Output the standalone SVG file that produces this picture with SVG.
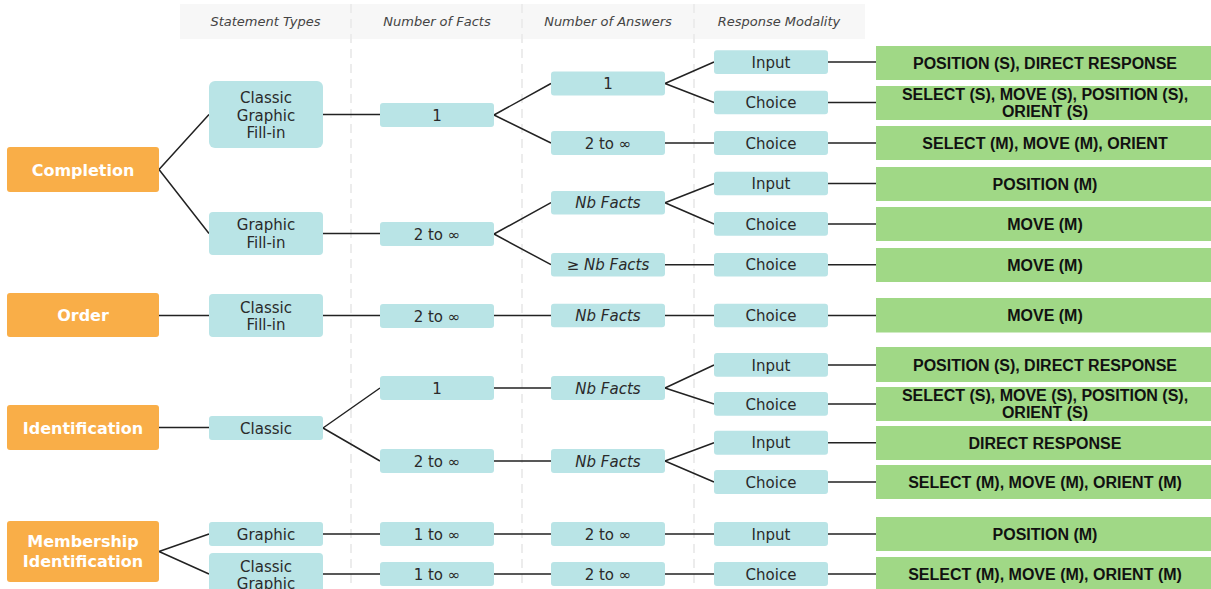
<svg xmlns="http://www.w3.org/2000/svg" width="1211" height="589" viewBox="0 0 1211 589">
<style>
.hdr{fill:#f7f7f7}
.sep{stroke:#ececec;stroke-width:2;stroke-dasharray:9 6;fill:none}
.ht{font-family:"DejaVu Sans",sans-serif;font-style:italic;font-size:13px;fill:#444;text-anchor:middle}
.cat rect{fill:#f9ae48}
.cat text{font-family:"DejaVu Sans",sans-serif;font-weight:bold;font-size:16px;fill:#fff;text-anchor:middle}
.nd rect{fill:#b9e4e6}
.nd text{font-family:"DejaVu Sans",sans-serif;font-size:15px;fill:#2a2a2a;text-anchor:middle}
.nd text.it{font-style:italic}
.res rect{fill:#a0d886}
.res text{font-family:"Liberation Sans",Arial,sans-serif;font-weight:bold;font-size:16px;fill:#111;text-anchor:middle}
.edges{stroke:#222;stroke-width:1.5;fill:none}
</style>

<g id="header">
<rect class="hdr" x="180" y="4" width="685" height="35"/>
<line class="sep" x1="351" y1="4" x2="351" y2="589"/>
<line class="sep" x1="522" y1="4" x2="522" y2="589"/>
<line class="sep" x1="694" y1="4" x2="694" y2="589"/>
<text class="ht" x="265.5" y="26">Statement Types</text>
<text class="ht" x="437" y="26">Number of Facts</text>
<text class="ht" x="608" y="26">Number of Answers</text>
<text class="ht" x="779" y="26">Response Modality</text>
</g>

<g id="connectors" class="edges">
<path d="M159 169.5L209 114.5M159 169.5L209 233.5"/>
<path d="M323 114.5H380M323 233.5H380"/>
<path d="M494 115L551 83.5M494 115L551 143"/>
<path d="M494 234L551 202.7M494 234L551 264.7"/>
<path d="M665 83.5L714 62M665 83.5L714 102.5M665 143H714"/>
<path d="M665 202.7L714 183.5M665 202.7L714 224M665 264.7H714"/>
<path d="M159 315.5H209M323 315.5H380M494 315.5H551M665 315.5H714"/>
<path d="M159 427.5H209M323 428L380 388M323 428L380 461"/>
<path d="M494 388H551M665 388L714 365M665 388L714 404"/>
<path d="M494 461H551M665 461L714 442.7M665 461L714 482"/>
<path d="M159 551.5L209 534M159 551.5L209 574"/>
<path d="M323 534H380M494 534H551M665 534H714"/>
<path d="M323 574H380M494 574H551M665 574H714"/>
<path d="M828 62H876M828 102.5H876M828 143H876M828 183.5H876M828 224H876M828 264.7H876M828 315.5H876M828 365H876M828 404H876M828 442.7H876M828 482H876M828 534H876M828 574H876"/>
</g>

<g id="completion" class="cat"><rect x="7" y="147" width="152" height="45" rx="3"/><text x="83" y="175.5">Completion</text></g>
<g id="order" class="cat"><rect x="7" y="293" width="152" height="44" rx="3"/><text x="83" y="321">Order</text></g>
<g id="identification" class="cat"><rect x="7" y="405" width="152" height="45" rx="3"/><text x="83" y="433.5">Identification</text></g>
<g id="membership" class="cat"><rect x="7" y="521" width="152" height="61" rx="3"/><text x="83" y="547">Membership</text><text x="83" y="567">Identification</text></g>

<g id="st-cgf" class="nd"><rect x="209" y="81" width="114" height="67" rx="6"/><text x="266" y="102.5">Classic</text><text x="266" y="120.5">Graphic</text><text x="266" y="138">Fill-in</text></g>
<g id="st-gf" class="nd"><rect x="209" y="212" width="114" height="43" rx="4"/><text x="266" y="230">Graphic</text><text x="266" y="247.5">Fill-in</text></g>
<g id="st-cf" class="nd"><rect x="209" y="294" width="114" height="43" rx="4"/><text x="266" y="312.5">Classic</text><text x="266" y="330">Fill-in</text></g>
<g id="st-c" class="nd"><rect x="209" y="416" width="114" height="24" rx="3"/><text x="266" y="433.5">Classic</text></g>
<g id="st-g" class="nd"><rect x="209" y="522" width="114" height="24" rx="3"/><text x="266" y="539.5">Graphic</text></g>
<g id="st-cg" class="nd"><rect x="209" y="553" width="114" height="43" rx="4"/><text x="266" y="571.5">Classic</text><text x="266" y="589">Graphic</text></g>

<g id="nf-1a" class="nd"><rect x="380" y="103" width="114" height="24" rx="3"/><text x="437" y="120.5">1</text></g>
<g id="nf-2a" class="nd"><rect x="380" y="222" width="114" height="24" rx="3"/><text x="437" y="239.5">2 to ∞</text></g>
<g id="nf-2b" class="nd"><rect x="380" y="304" width="114" height="24" rx="3"/><text x="437" y="321.5">2 to ∞</text></g>
<g id="nf-1b" class="nd"><rect x="380" y="376" width="114" height="24" rx="3"/><text x="437" y="393.5">1</text></g>
<g id="nf-2c" class="nd"><rect x="380" y="449" width="114" height="24" rx="3"/><text x="437" y="466.5">2 to ∞</text></g>
<g id="nf-1c" class="nd"><rect x="380" y="522" width="114" height="24" rx="3"/><text x="437" y="539.5">1 to ∞</text></g>
<g id="nf-1d" class="nd"><rect x="380" y="562" width="114" height="24" rx="3"/><text x="437" y="579.5">1 to ∞</text></g>

<g id="na-1" class="nd"><rect x="551" y="71.5" width="114" height="24" rx="3"/><text x="608" y="89">1</text></g>
<g id="na-2a" class="nd"><rect x="551" y="131" width="114" height="24" rx="3"/><text x="608" y="148.5">2 to ∞</text></g>
<g id="na-nb1" class="nd"><rect x="551" y="191" width="114" height="23.5" rx="3"/><text class="it" x="608" y="208">Nb Facts</text></g>
<g id="na-ge" class="nd"><rect x="551" y="253" width="114" height="23.5" rx="3"/><text x="608" y="270"><tspan>≥ </tspan><tspan font-style="italic">Nb Facts</tspan></text></g>
<g id="na-nb2" class="nd"><rect x="551" y="303.7" width="114" height="23.6" rx="3"/><text class="it" x="608" y="321">Nb Facts</text></g>
<g id="na-nb3" class="nd"><rect x="551" y="376" width="114" height="24" rx="3"/><text class="it" x="608" y="393.5">Nb Facts</text></g>
<g id="na-nb4" class="nd"><rect x="551" y="449" width="114" height="24" rx="3"/><text class="it" x="608" y="466.5">Nb Facts</text></g>
<g id="na-2b" class="nd"><rect x="551" y="522" width="114" height="24" rx="3"/><text x="608" y="539.5">2 to ∞</text></g>
<g id="na-2c" class="nd"><rect x="551" y="562" width="114" height="24" rx="3"/><text x="608" y="579.5">2 to ∞</text></g>

<g id="rm-1" class="nd"><rect x="714" y="50.3" width="114" height="23.7" rx="3"/><text x="771" y="67.5">Input</text></g>
<g id="rm-2" class="nd"><rect x="714" y="90.7" width="114" height="23.6" rx="3"/><text x="771" y="108">Choice</text></g>
<g id="rm-3" class="nd"><rect x="714" y="131" width="114" height="24" rx="3"/><text x="771" y="148.5">Choice</text></g>
<g id="rm-4" class="nd"><rect x="714" y="171.7" width="114" height="23.6" rx="3"/><text x="771" y="189">Input</text></g>
<g id="rm-5" class="nd"><rect x="714" y="212" width="114" height="23.7" rx="3"/><text x="771" y="229.5">Choice</text></g>
<g id="rm-6" class="nd"><rect x="714" y="253" width="114" height="23.5" rx="3"/><text x="771" y="270">Choice</text></g>
<g id="rm-7" class="nd"><rect x="714" y="303.7" width="114" height="23.6" rx="3"/><text x="771" y="321">Choice</text></g>
<g id="rm-8" class="nd"><rect x="714" y="353" width="114" height="23.7" rx="3"/><text x="771" y="370.5">Input</text></g>
<g id="rm-9" class="nd"><rect x="714" y="392" width="114" height="23.7" rx="3"/><text x="771" y="409.5">Choice</text></g>
<g id="rm-10" class="nd"><rect x="714" y="430.7" width="114" height="24" rx="3"/><text x="771" y="448">Input</text></g>
<g id="rm-11" class="nd"><rect x="714" y="470" width="114" height="24" rx="3"/><text x="771" y="487.5">Choice</text></g>
<g id="rm-12" class="nd"><rect x="714" y="522" width="114" height="24" rx="3"/><text x="771" y="539.5">Input</text></g>
<g id="rm-13" class="nd"><rect x="714" y="562" width="114" height="24" rx="3"/><text x="771" y="579.5">Choice</text></g>

<g id="r-1" class="res"><rect x="876" y="46" width="336" height="34"/><text x="1045" y="68.5">POSITION (S), DIRECT RESPONSE</text></g>
<g id="r-2" class="res"><rect x="876" y="86" width="336" height="34"/><text x="1045" y="100">SELECT (S), MOVE (S), POSITION (S),</text><text x="1045" y="117">ORIENT (S)</text></g>
<g id="r-3" class="res"><rect x="876" y="126" width="336" height="34"/><text x="1045" y="148.5">SELECT (M), MOVE (M), ORIENT</text></g>
<g id="r-4" class="res"><rect x="876" y="167" width="336" height="34"/><text x="1045" y="189.5">POSITION (M)</text></g>
<g id="r-5" class="res"><rect x="876" y="207" width="336" height="34"/><text x="1045" y="229.5">MOVE (M)</text></g>
<g id="r-6" class="res"><rect x="876" y="248" width="336" height="34"/><text x="1045" y="270.5">MOVE (M)</text></g>
<g id="r-7" class="res"><rect x="876" y="298" width="336" height="34.5"/><text x="1045" y="321">MOVE (M)</text></g>
<g id="r-8" class="res"><rect x="876" y="347" width="336" height="35"/><text x="1045" y="370.5">POSITION (S), DIRECT RESPONSE</text></g>
<g id="r-9" class="res"><rect x="876" y="387" width="336" height="34"/><text x="1045" y="401">SELECT (S), MOVE (S), POSITION (S),</text><text x="1045" y="418">ORIENT (S)</text></g>
<g id="r-10" class="res"><rect x="876" y="426" width="336" height="34"/><text x="1045" y="448.5">DIRECT RESPONSE</text></g>
<g id="r-11" class="res"><rect x="876" y="465" width="336" height="34"/><text x="1045" y="487.5">SELECT (M), MOVE (M), ORIENT (M)</text></g>
<g id="r-12" class="res"><rect x="876" y="517" width="336" height="34"/><text x="1045" y="539.5">POSITION (M)</text></g>
<g id="r-13" class="res"><rect x="876" y="557" width="336" height="34"/><text x="1045" y="579.5">SELECT (M), MOVE (M), ORIENT (M)</text></g>
</svg>
